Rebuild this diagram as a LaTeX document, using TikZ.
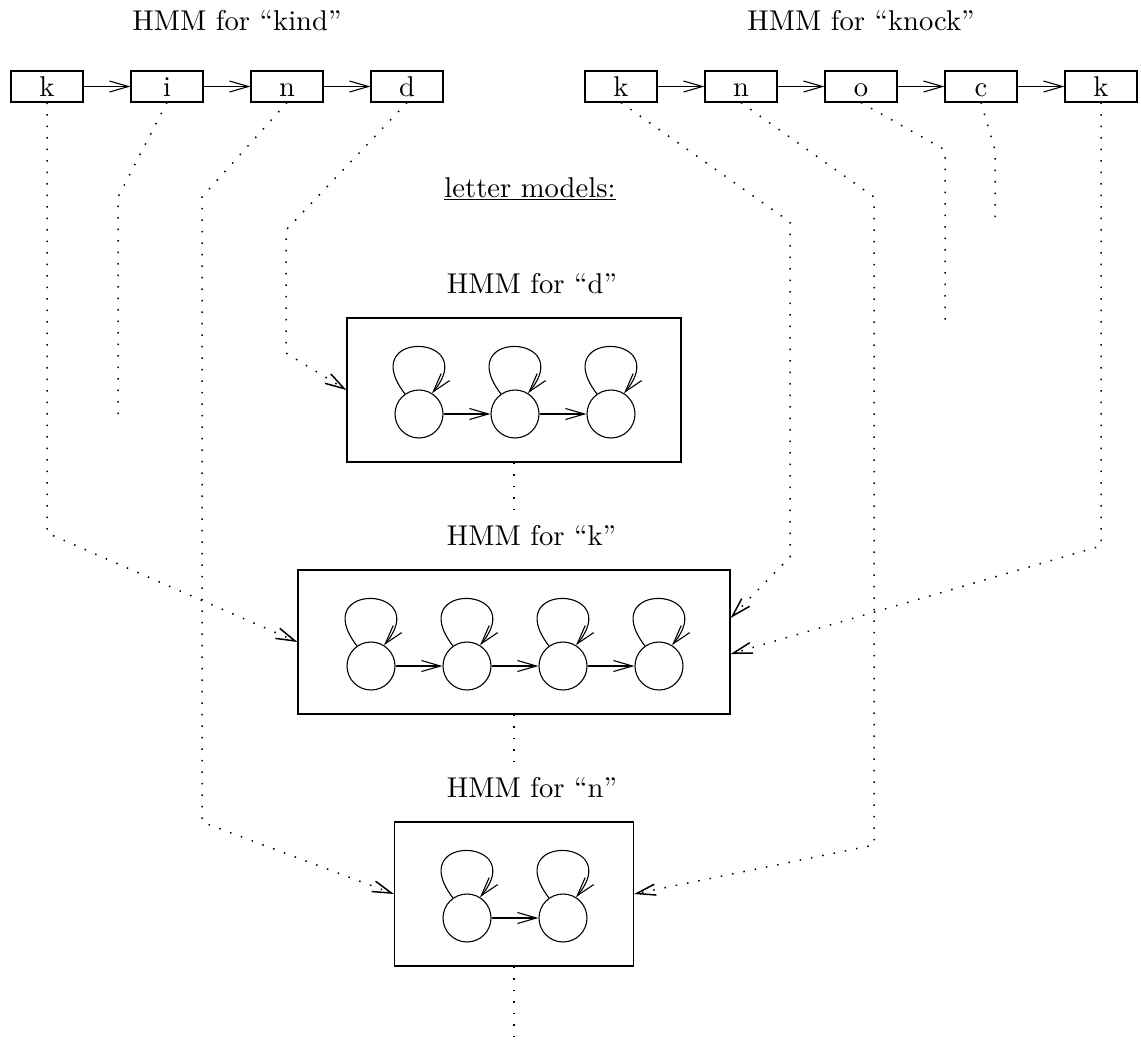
\documentclass[tikz,border=0pt]{standalone}
\usetikzlibrary{arrows.meta}
% Latin Modern at its 10pt design size, scaled up
\font\hmmfont="[lmroman10-regular.otf]:mapping=tex-text" at 28.6pt
\begin{document}
\begin{tikzpicture}[x=1pt,y=1pt,
    font=\hmmfont,
    line width=1.1pt,
    >={Straight Barb[length=19pt,width=11pt]},
    letterbox/.style={draw,minimum width=72pt,minimum height=31pt,inner sep=0pt,
      text height=19pt,text depth=0pt},
    modelbox/.style={draw,minimum height=144pt,inner sep=0pt},
    hmmstate/.style={draw,circle,minimum size=48pt,inner sep=0pt},
    link/.style={dash pattern=on 1.5pt off 10pt,line width=1.5pt},
  ]
  \useasboundingbox (0,0) rectangle (1141,-1042);

  % Word models on top
  \node[anchor=base] (kindtitle) at (237,-30) {HMM for “kind”};
  \node[anchor=base] (knocktitle) at (861,-30) {HMM for “knock”};
  \foreach \l [count=\i] in {k,i,n,d}
    \node[letterbox] (kind\i) at ({47+120*(\i-1)},-86.5) {\l};
  \foreach \l [count=\i] in {k,n,o,c,k}
    \node[letterbox] (knock\i) at ({621+120*(\i-1)},-86.5) {\l};
  \foreach \i/\j in {1/2,2/3,3/4}
    \draw[->] (kind\i) -- (kind\j);
  \foreach \i/\j in {1/2,2/3,3/4,4/5}
    \draw[->] (knock\i) -- (knock\j);

  \node[anchor=base] (lettertitle) at (530,-197) {\underline{letter models:}};

  % Letter models
  \node[modelbox,minimum width=334pt] (dbox) at (514,-390) {};
  \node[anchor=base west] (dtitle) at (443,-293) {HMM for “d”};
  \node[modelbox,minimum width=432pt] (kbox) at (514,-642) {};
  \node[anchor=base west] (ktitle) at (443,-545) {HMM for “k”};
  \node[modelbox,minimum width=239pt] (nbox) at (514,-894) {};
  \node[anchor=base west] (ntitle) at (443,-797) {HMM for “n”};

  % States, self loops and transitions
  \foreach \i in {1,2,3}
    \node[hmmstate] (d\i) at ({419+96*(\i-1)},-414) {};
  \foreach \i in {1,...,4}
    \node[hmmstate] (k\i) at ({371+96*(\i-1)},-666) {};
  \foreach \i in {1,2}
    \node[hmmstate] (n\i) at ({467+96*(\i-1)},-918) {};
  \foreach \s in {d1,d2,d3,k1,k2,k3,k4,n1,n2}
    \draw[->] (\s.125) .. controls +(-50,65) and +(50,60) .. (\s.58);
  \foreach \a/\b in {d1/d2,d2/d3,k1/k2,k2/k3,k3/k4,n1/n2}
    \draw[->] (\a) -- (\b);

  % Bend points of the dotted links
  \coordinate (kindk) at (47,-533);
  \coordinate (kindi1) at (118,-197);
  \coordinate (kindi2) at (118,-415);
  \coordinate (kindn1) at (202,-197);
  \coordinate (kindn2) at (202,-822);
  \coordinate (kindd1) at (286,-230);
  \coordinate (kindd2) at (286,-353);
  \coordinate (knockk1) at (790,-222);
  \coordinate (knockk2) at (790,-557);
  \coordinate (knockn1) at (874,-197);
  \coordinate (knockn2) at (874,-845);
  \coordinate (knocko1) at (945,-150);
  \coordinate (knocko2) at (945,-322);
  \coordinate (knockc1) at (995,-150);
  \coordinate (knockc2) at (995,-222);
  \coordinate (knockk3) at (1101,-546);
  \coordinate (dtail) at (514,-510);
  \coordinate (ktail) at (514,-762);
  \coordinate (ntail) at (514,-1040);

  % Dotted links from letters to their models
  \draw[link,->] (kind1.south) -- (kindk) -- (kbox.west);
  \draw[link] (kind2.south) -- (kindi1) -- (kindi2);
  \draw[link,->] (kind3.south) -- (kindn1) -- (kindn2) -- (nbox.west);
  \draw[link,->] (kind4.south) -- (kindd1) -- (kindd2) -- (dbox.west);
  \draw[link,->] (knock1.south) -- (knockk1) -- (knockk2) -- ([yshift=24pt]kbox.east);
  \draw[link,->] (knock2.south) -- (knockn1) -- (knockn2) -- (nbox.east);
  \draw[link] (knock3.south) -- (knocko1) -- (knocko2);
  \draw[link] (knock4.south) -- (knockc1) -- (knockc2);
  \draw[link,->] (knock5.south) -- (knockk3) -- ([yshift=-12pt]kbox.east);

  % Dotted continuation between the models
  \draw[link] (dbox.south) -- (dtail);
  \draw[link] (kbox.south) -- (ktail);
  \draw[link] (nbox.south) -- (ntail);
\end{tikzpicture}
\end{document}
